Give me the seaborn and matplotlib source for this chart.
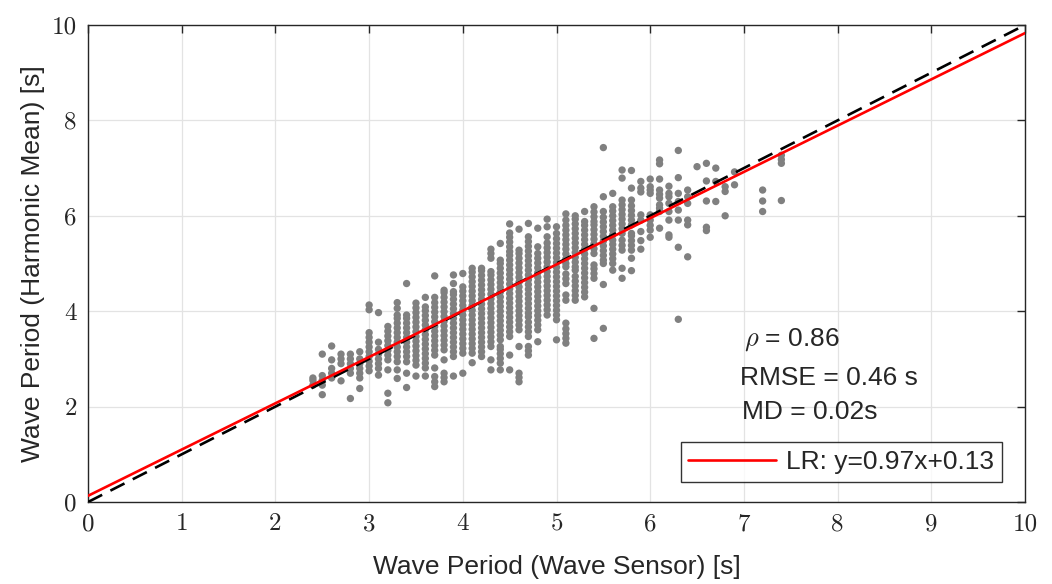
import numpy as np
import pandas as pd
import matplotlib
matplotlib.use("Agg")
import matplotlib.pyplot as plt
import seaborn as sns

# columnas de puntos: periodo del sensor (x) y periodos de la media armonica (y)
x_cols = [2.4, 2.5, 2.6, 2.7, 2.8, 2.9, 3.0, 3.1, 3.2, 3.3, 3.4, 3.5, 3.6, 3.7,
          3.8, 3.9, 4.0, 4.1, 4.2, 4.3, 4.4, 4.5, 4.6, 4.7, 4.8, 4.9, 5.0, 5.1,
          5.2, 5.3, 5.4, 5.5, 5.6, 5.7, 5.8, 5.9, 6.0, 6.1, 6.2, 6.3, 6.4, 6.5,
          6.6, 6.7, 6.8, 6.9, 7.2, 7.4]

y_24 = [2.45, 2.55, 2.6]
y_25 = [2.25, 2.45, 2.55, 2.65, 3.1]
y_26 = [2.6, 2.7, 2.8, 2.98, 3.27]
y_27 = [2.54, 2.9, 3.0, 3.1]
y_28 = [2.17, 2.7, 2.8, 2.9, 3.0, 3.1]
y_29 = [2.38, 2.6, 2.7, 2.8, 2.9, 3.0, 3.15]
y_30 = [2.75, 2.85, 2.95, 3.05, 3.15, 3.25, 3.35, 3.45, 3.55, 4.03, 4.13]
y_31 = [2.66, 2.8, 2.9, 3.0, 3.1, 3.2, 3.35, 3.97]
y_32 = [2.08, 2.28, 2.77, 2.98, 3.08, 3.18, 3.28, 3.38, 3.48, 3.58, 3.68]
y_33 = [2.59, 2.77, 2.94, 3.05, 3.15, 3.25, 3.35, 3.45, 3.55, 3.65, 3.75,
        3.85, 3.92, 4.06, 4.18]
y_34 = [2.40, 2.70, 2.94, 3.05, 3.15, 3.25, 3.35, 3.45, 3.55, 3.65, 3.75,
        3.85, 3.92, 4.58]
y_35 = [2.64, 2.87, 2.97, 3.07, 3.17, 3.27, 3.37, 3.47, 3.57, 3.67, 3.77,
        3.87, 3.97, 4.07, 4.17]
y_36 = [2.64, 2.81, 2.91, 3.01, 3.11, 3.21, 3.31, 3.41, 3.51, 3.61, 3.71,
        3.81, 3.91, 4.01, 4.09, 4.29]
y_37 = [2.42, 2.52, 2.63, 2.81, 3.08, 3.18, 3.28, 3.38, 3.48, 3.58, 3.68,
        3.78, 3.88, 3.98, 4.08, 4.18, 4.29, 4.74]
y_38 = [2.52, 2.61, 2.70, 2.98, 3.19, 3.29, 3.39, 3.49, 3.59, 3.69, 3.79,
        3.89, 3.99, 4.09, 4.19, 4.29, 4.39, 4.44]
y_39 = [2.64, 3.05, 3.15, 3.25, 3.35, 3.45, 3.55, 3.65, 3.75, 3.85, 3.95,
        4.05, 4.15, 4.25, 4.35, 4.41, 4.58, 4.76]
y_40 = [2.70, 3.12, 3.22, 3.32, 3.42, 3.52, 3.62, 3.72, 3.82, 3.92, 4.02,
        4.12, 4.22, 4.32, 4.42, 4.51, 4.79]
y_41 = [2.92, 3.12, 3.22, 3.32, 3.42, 3.52, 3.62, 3.72, 3.82, 3.92, 4.02,
        4.12, 4.22, 4.32, 4.42, 4.52, 4.62, 4.72, 4.82, 4.90]
y_42 = [3.05, 3.15, 3.25, 3.35, 3.45, 3.55, 3.65, 3.75, 3.85, 3.95, 4.05,
        4.15, 4.25, 4.35, 4.45, 4.55, 4.65, 4.75, 4.85, 4.90]
y_43 = [2.77, 2.98, 3.26, 3.36, 3.46, 3.56, 3.66, 3.76, 3.86, 3.96, 4.06,
        4.16, 4.26, 4.36, 4.46, 4.56, 4.66, 4.76, 4.83, 5.11, 5.21, 5.30]
y_44 = [2.77, 2.91, 3.01, 3.11, 3.20, 3.26, 3.40, 3.50, 3.60, 3.70, 3.80,
        3.90, 4.00, 4.10, 4.20, 4.30, 4.40, 4.50, 4.60, 4.70, 4.80, 4.90,
        5.00, 5.07, 5.42]
y_45 = [2.77, 3.08, 3.47, 3.57, 3.67, 3.77, 3.87, 3.97, 4.07, 4.17, 4.27,
        4.37, 4.47, 4.57, 4.67, 4.77, 4.87, 4.97, 5.07, 5.17, 5.25, 5.35,
        5.45, 5.55, 5.64, 5.83]
y_46 = [2.52, 2.61, 2.70, 3.26, 3.61, 3.71, 3.81, 3.91, 4.01, 4.11, 4.21,
        4.31, 4.41, 4.51, 4.61, 4.71, 4.81, 4.91, 5.01, 5.11, 5.21, 5.28, 5.72]
y_47 = [3.08, 3.17, 3.26, 3.47, 3.57, 3.67, 3.77, 3.88, 3.96, 4.06, 4.16,
        4.26, 4.36, 4.46, 4.56, 4.66, 4.76, 4.86, 4.96, 5.06, 5.16, 5.26,
        5.36, 5.46, 5.56, 5.84]
y_48 = [3.36, 3.61, 3.71, 3.81, 3.91, 4.01, 4.11, 4.21, 4.31, 4.41, 4.51,
        4.61, 4.71, 4.81, 4.91, 5.01, 5.11, 5.21, 5.35, 5.74]
y_49 = [3.92, 4.03, 4.13, 4.23, 4.33, 4.43, 4.53, 4.63, 4.73, 4.83, 4.93,
        5.03, 5.13, 5.23, 5.33, 5.43, 5.56, 5.77, 5.93]
y_50 = [3.40, 3.82, 3.92, 4.02, 4.12, 4.22, 4.32, 4.42, 4.52, 4.62, 4.72,
        4.82, 4.92, 5.02, 5.12, 5.22, 5.32, 5.42, 5.52, 5.63, 5.77]
y_51 = [3.33, 3.43, 3.53, 3.63, 3.75, 4.23, 4.34, 4.58, 4.68, 4.78, 4.93,
        5.00, 5.10, 5.20, 5.30, 5.40, 5.50, 5.60, 5.70, 5.80, 5.91, 6.04]
y_52 = [4.23, 4.33, 4.43, 4.53, 4.63, 4.73, 4.86, 4.93, 5.03, 5.13, 5.23,
        5.33, 5.43, 5.53, 5.63, 5.73, 5.83, 5.93, 6.00]
y_53 = [4.30, 4.40, 4.50, 4.60, 4.70, 4.80, 4.90, 5.00, 5.10, 5.20, 5.30,
        5.40, 5.50, 5.60, 5.70, 5.80, 5.88, 6.09]
y_54 = [3.43, 4.06, 4.69, 4.79, 4.89, 4.97, 5.21, 5.31, 5.41, 5.51, 5.61,
        5.71, 5.81, 5.88, 5.98, 6.08, 6.19]
y_55 = [3.64, 4.56, 5.00, 5.07, 5.17, 5.27, 5.37, 5.47, 5.57, 5.67, 5.77,
        5.87, 5.97, 6.09, 6.40, 7.43]
y_56 = [4.86, 5.00, 5.10, 5.20, 5.30, 5.40, 5.49, 5.60, 5.70, 5.80, 5.90,
        6.00, 6.10, 6.19, 6.47]
y_57 = [4.69, 4.90, 5.28, 5.38, 5.49, 5.63, 5.73, 5.83, 5.93, 6.03, 6.13,
        6.23, 6.33, 6.79, 6.96]
y_58 = [4.85, 5.11, 5.28, 5.38, 5.48, 5.58, 5.63, 5.81, 5.91, 6.01, 6.11,
        6.21, 6.33, 6.58, 6.95]
y_59 = [5.30, 5.48, 5.67, 5.91, 6.02, 6.50, 6.58, 6.72]
y_60 = [5.55, 5.70, 5.80, 5.91, 6.02, 6.47, 6.54, 6.61, 6.77]
y_61 = [5.74, 6.09, 6.16, 6.23, 6.37, 6.45, 6.54, 6.77, 7.09, 7.17]
y_62 = [5.55, 5.60, 5.91, 6.09, 6.26, 6.40, 6.47, 6.62]
y_63 = [3.83, 5.34, 5.91, 6.12, 6.30, 6.47, 6.80, 7.37]
y_64 = [5.14, 5.81, 5.91, 6.26, 6.40, 6.54]
y_65 = [7.03]
y_66 = [5.69, 5.76, 6.31, 6.73, 7.10]
y_67 = [6.30, 6.72, 7.00]
y_68 = [6.00, 6.51, 6.61]
y_69 = [6.65, 6.92]
y_72 = [6.09, 6.31, 6.54]
y_74 = [6.32, 7.10, 7.18, 7.27]

y_cols = [y_24, y_25, y_26, y_27, y_28, y_29, y_30, y_31, y_32, y_33, y_34,
          y_35, y_36, y_37, y_38, y_39, y_40, y_41, y_42, y_43, y_44, y_45,
          y_46, y_47, y_48, y_49, y_50, y_51, y_52, y_53, y_54, y_55, y_56,
          y_57, y_58, y_59, y_60, y_61, y_62, y_63, y_64, y_65, y_66, y_67,
          y_68, y_69, y_72, y_74]

# recta de regresion y estadisticos
lr_slope = 0.97
lr_intercept = 0.13
stats_text = [r"$\rho$ = 0.86", "RMSE = 0.46 s", "MD = 0.02s"]

# tabla larga para seaborn
filas = []
for xv, ys in zip(x_cols, y_cols):
    for yv in ys:
        filas.append({"sensor": xv, "armonica": yv})
df = pd.DataFrame(filas)

sns.set_style("white")
plt.rcParams["font.family"] = ["Liberation Sans", "DejaVu Sans"]
plt.rcParams["mathtext.fontset"] = "cm"

fig = plt.figure(figsize=(10.52, 5.84), dpi=100)
ax = fig.add_axes([0.0837, 0.1404, 0.8906, 0.8168])

sns.scatterplot(data=df, x="sensor", y="armonica", ax=ax, color="#808080",
                s=28, edgecolor="none", linewidth=0, zorder=2)

x_line = np.array([0, 10])
ax.plot(x_line, x_line, color="black", linestyle=(0, (6, 3.5)), linewidth=1.9,
        zorder=3)
ax.plot(x_line, lr_slope * x_line + lr_intercept, color="#ff0000",
        linewidth=1.9, zorder=4, label="LR: y=0.97x+0.13")

ax.set_xlim(0, 10)
ax.set_ylim(0, 10)
ax.set_xticks(range(0, 11))
ax.set_yticks(range(0, 11, 2))
ax.grid(True, color="#e3e3e3", linewidth=0.9, zorder=0)
ax.set_axisbelow(True)

for lab in ax.get_xticklabels() + ax.get_yticklabels():
    lab.set_fontfamily("cmr10")
    lab.set_fontsize(18)
ax.tick_params(direction="in", length=6, width=1, top=True, right=True,
               colors="#262626", pad=8)
for sp in ax.spines.values():
    sp.set_color("#262626")
    sp.set_linewidth(1.0)

ax.set_xlabel("Wave Period (Wave Sensor) [s]", fontsize=19, color="#262626",
              labelpad=14)
ax.set_ylabel("Wave Period (Harmonic Mean) [s]", fontsize=19, color="#262626",
              labelpad=5)

ax.text(7.0, 3.40, stats_text[0], fontsize=19, va="center", ha="left")
ax.text(6.96, 2.60, stats_text[1], fontsize=19, va="center", ha="left")
ax.text(6.98, 1.89, stats_text[2], fontsize=19, va="center", ha="left")

leg = ax.legend(loc="lower right", bbox_to_anchor=(0.9755, 0.042),
                borderaxespad=0, fontsize=19, frameon=True, fancybox=False,
                handlelength=3.3, borderpad=0.3, handletextpad=0.4)
leg.get_frame().set_edgecolor("black")
leg.get_frame().set_linewidth(1.0)

fig.savefig("out.png", dpi=100)
